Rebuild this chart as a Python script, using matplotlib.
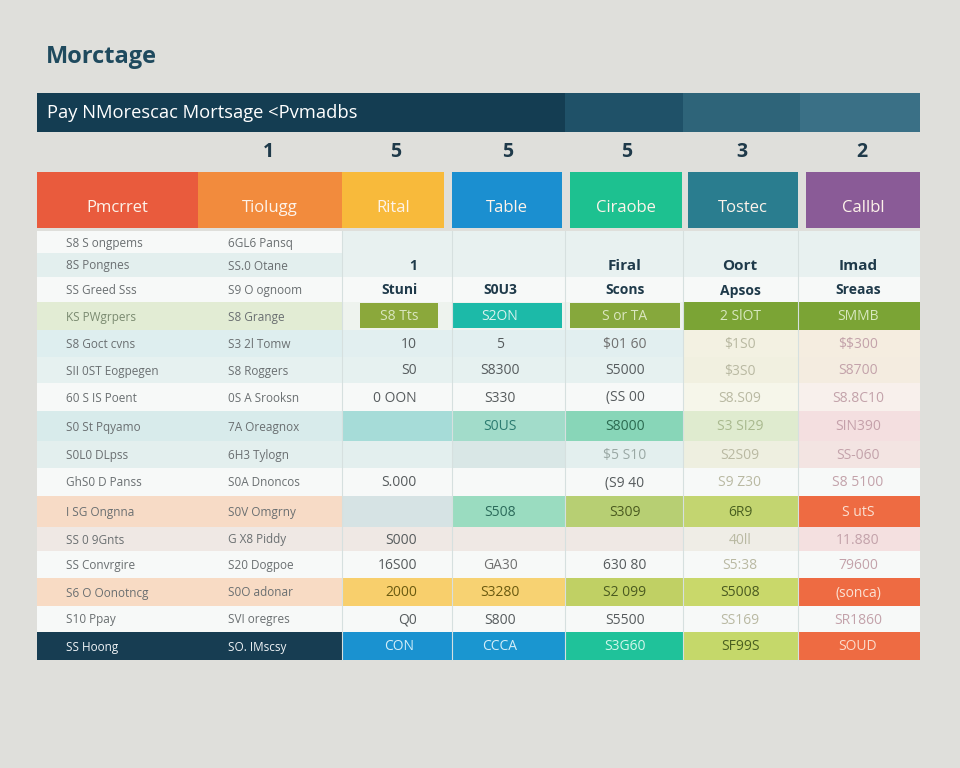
import matplotlib
matplotlib.use("Agg")
import matplotlib.pyplot as plt
from matplotlib.patches import Rectangle

plt.rcParams['font.family'] = ['Open Sans', 'DejaVu Sans']
plt.rcParams['text.parse_math'] = False

# ---- data -------------------------------------------------------------
title = "Morctage"
banner = "Pay NMorescac Mortsage <Pvmadbs"
counts = ["", "1", "5", "5", "5", "3", "2"]
headers = ["Pmcrret", "Tiolugg", "Rital", "Table", "Ciraobe", "Tostec", "Callbl"]

rows = [
    ["S8 S ongpems", "6GL6 Pansq", "", "", "", "", ""],
    ["8S Pongnes", "SS.0 Otane", "1", "", "Firal", "Oort", "Imad"],
    ["SS Greed Sss", "S9 O ognoom", "Stuni", "S0U3", "Scons", "Apsos", "Sreaas"],
    ["KS PWgrpers", "S8 Grange", "S8 Tts", "S2ON", "S or TA", "2 SlOT", "SMMB"],
    ["S8 Goct cvns", "S3 2l Tomw", "10", "5", "$01 60", "$1S0", "$$300"],
    ["SII 0ST Eogpegen", "S8 Roggers", "S0", "S8300", "S5000", "$3S0", "S8700"],
    ["60 S IS Poent", "0S A Srooksn", "0 OON", "S330", "(SS 00", "S8.S09", "S8.8C10"],
    ["S0 St Pqyamo", "7A Oreagnox", "", "S0US", "S8000", "S3 SI29", "SIN390"],
    ["S0L0 DLpss", "6H3 Tylogn", "", "", "$5 S10", "S2S09", "SS-060"],
    ["GhS0 D Panss", "S0A Dnoncos", "S.000", "", "(S9 40", "S9 Z30", "S8 5100"],
    ["I SG Ongnna", "S0V Omgrny", "", "S508", "S309", "6R9", "S utS"],
    ["SS 0 9Gnts", "G X8 Piddy", "S000", "", "", "40ll", "11.880"],
    ["SS Convrgire", "S20 Dogpoe", "16S00", "GA30", "630 80", "S5:38", "79600"],
    ["S6 O Oonotncg", "S0O adonar", "2000", "S3280", "S2 099", "S5008", "(sonca)"],
    ["S10 Ppay", "SVI oregres", "Q0", "S800", "S5500", "SS169", "SR1860"],
    ["SS Hoong", "SO. IMscsy", "CON", "CCCA", "S3G60", "SF99S", "SOUD"],
]

# ---- layout / styles --------------------------------------------------
col_edges = [37, 198, 342, 452, 565, 683, 798, 920]
row_edges = [231, 253, 277, 302, 330, 357, 383, 411, 441, 468, 496, 527,
             551, 578, 606, 632, 660]
header_colors = ["#e95b3d", "#f28b3d", "#f8ba3b", "#1b8fd0", "#1dc190",
                 "#2a7d8f", "#8a5b97"]
header_edges = [(37, 198), (198, 342), (342, 444), (452, 562), (570, 682),
                (688, 798), (806, 920)]
banner_parts = [(37, 565, "#143d52"), (565, 683, "#1f5168"),
                (683, 800, "#2e6479"), (800, 920, "#3a7086")]

W, L, T = "#f7f9f8", "#e3efee", "#e8f1f0"
row_bg = [
    [W, W, T, T, T, T, T],
    [L, L, T, T, T, T, T],
    [W, W, W, W, W, W, W],
    ["#e2ecd4", "#e2ecd4", "#eef3ee", "#eef3ee", "#eef3ee", "#7ba435", "#7ba435"],
    ["#deeeef", "#deeeef", "#e2eff0", "#e2eff0", "#e2eff0", "#f3f1e2", "#f5ede0"],
    ["#e6f1f0", "#e6f1f0", "#e6f1f0", "#e6f1f0", "#e6f1f0", "#f1f0e0", "#f4ece0"],
    [W, W, W, W, W, "#f6f6ea", "#f8f0ec"],
    ["#d8ebeb", "#d8ebeb", "#a6dcd8", "#a2dcca", "#88d6b8", "#dfebcf", "#f4dfe0"],
    [L, L, L, "#d9e7e6", "#e3efee", "#eeefe0", "#f3e4e2"],
    [W, W, W, W, W, W, W],
    ["#f7dbc6", "#f7dbc6", "#d6e3e4", "#9adcc0", "#b7cf73", "#c3d570", "#ee6b42"],
    ["#efe8e4", "#efe8e4", "#efe8e4", "#efe8e4", "#efe8e4", "#efede6", "#f4e0e0"],
    [W, W, W, W, W, W, W],
    ["#f8dbc4", "#f8dbc4", "#f8cf6c", "#f7d272", "#c0d064", "#c9d86a", "#ee6b42"],
    [W, W, W, W, W, W, W],
    ["#173d52", "#173d52", "#1a92d0", "#1a96d0", "#1fc29a", "#c5d86a", "#ee6b42"],
]
# inset boxes on the fourth row
boxes = {2: (360, 438, "#8ba83b"), 3: (452, 562, "#1cbaa8"), 4: (570, 680, "#86a83c")}

G, D = "#6a6f71", "#565b5d"
P5, P6 = "#b9b9a2", "#c3a2aa"
row_fg = [
    [G, G, D, D, D, P5, P6],
    [G, G, "#1f3a4a", D, "#1f3a4a", "#1f3a4a", "#1f3a4a"],
    [G, G, "#1f3a4a", "#1f3a4a", "#1f3a4a", "#1f3a4a", "#1f3a4a"],
    ["#7a8a70", G, "#d9e6bf", "#d8f2ee", "#dbe7c0", "#d8e8c0", "#d8e8c0"],
    [G, G, D, D, "#707070", P5, P6],
    [G, G, D, D, D, P5, P6],
    [G, G, D, D, D, P5, P6],
    [G, G, D, "#2b7b70", "#2b6a50", "#a9b98e", "#c4a0aa"],
    [G, G, D, D, "#9aa8a4", P5, P6],
    [G, G, D, D, D, P5, P6],
    [G, G, D, "#2b6a5a", "#4a5a20", "#4a6020", "#fbe0d2"],
    [G, G, D, D, D, P5, P6],
    [G, G, D, "#707070", D, P5, P6],
    [G, G, "#6a5a10", "#6a5a10", "#4a5a20", "#4a5a20", "#fbe2d4"],
    [G, G, D, D, D, P5, P6],
    ["#f0f4f6", "#f0f4f6", "#d3eef8", "#d3eef8", "#d3f7ec", "#4a6020", "#fbdccc"],
]
bold_rows = {1, 2}

fig = plt.figure(figsize=(9.6, 7.68), dpi=100)
fig.patch.set_facecolor("#dfdfdb")
ax = fig.add_axes([0, 0, 1, 1])
ax.set_xlim(0, 960)
ax.set_ylim(768, 0)
ax.axis("off")

ax.text(46, 57, title, fontsize=17, fontweight="bold", color="#1f4a5e",
        va="center", ha="left")

for x0, x1, c in banner_parts:
    ax.add_patch(Rectangle((x0, 93), x1 - x0, 39, color=c, lw=0))
ax.text(47, 113, banner, fontsize=13.2, color="white", va="center", ha="left")

count_x = [0, 268, 396, 508, 627, 742, 862]
for cx, c in zip(count_x, counts):
    if c:
        ax.text(cx, 152, c, fontsize=14, fontweight="bold", color="#1f3a4a",
                ha="center", va="center")

for (x0, x1), c, h in zip(header_edges, header_colors, headers):
    ax.add_patch(Rectangle((x0, 172), x1 - x0, 56, color=c, lw=0))
    ax.text((x0 + x1) / 2, 208, h, fontsize=12, color="#fdf3ea",
            ha="center", va="center")

# body background
for i in range(len(rows)):
    y0, y1 = row_edges[i], row_edges[i + 1]
    for j in range(7):
        x0, x1 = col_edges[j], col_edges[j + 1]
        ax.add_patch(Rectangle((x0, y0), x1 - x0, y1 - y0,
                               color=row_bg[i][j], lw=0))
for j, (x0, x1, c) in boxes.items():
    ax.add_patch(Rectangle((x0, row_edges[3] + 1), x1 - x0, 25, color=c, lw=0))

# faint column dividers
for x in col_edges[2:-1]:
    ax.plot([x, x], [row_edges[0], row_edges[-1]], color="#d6e0df", lw=0.8,
            zorder=1)

text_x = [66, 228, 417, 500, 625, 740, 858]
for i, r in enumerate(rows):
    yc = (row_edges[i] + row_edges[i + 1]) / 2 + 1
    for j, s in enumerate(r):
        if not s:
            continue
        if j < 2:
            ha, x, fs = "left", text_x[j], 8.5
        elif j == 2 and i not in (2, 3, 15):
            ha, x, fs = "right", text_x[j], 10
        elif j == 2:
            ha, x, fs = "center", 399, 10
        else:
            ha, x, fs = "center", text_x[j], 10
        fw = "bold" if (i in bold_rows and j >= 2) else "normal"
        if i == 1 and j >= 4:
            fs = 11
        ax.text(x, yc, s, fontsize=fs, color=row_fg[i][j], ha=ha,
                va="center", fontweight=fw, zorder=3)

fig.savefig("out.png", dpi=100, facecolor=fig.get_facecolor())
